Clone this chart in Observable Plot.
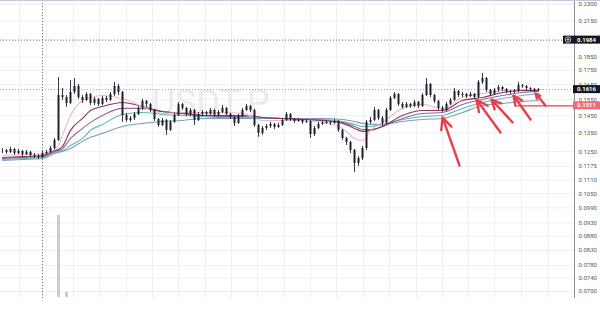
<!DOCTYPE html>
<html><head><meta charset="utf-8">
<script src="https://cdn.jsdelivr.net/npm/d3@7"></script>
<script src="https://cdn.jsdelivr.net/npm/@observablehq/plot@0.6"></script>
<style>
html,body{margin:0;padding:0;background:#fff;}
#chart{position:relative;width:600px;height:309px;overflow:hidden;background:#fff;font-family:Roboto,"Liberation Sans",sans-serif;}
#topline{position:absolute;left:0;top:0;width:600px;height:1px;background:#c3c9d4;z-index:5;}
</style></head><body>
<div id="chart"></div>
<script>
// ---- price bars (bar index = position in arrays) ----
const barClose = [
0.1256,0.1246,0.1261,0.1240,0.1251,0.1235,0.1246,0.1230,0.1225,0.1220,
0.1240,0.1246,0.1266,0.1309,0.1577,0.1564,0.1526,0.1597,0.1637,0.1564,
0.1545,0.1584,0.1526,0.1551,0.1520,0.1558,0.1545,0.1584,0.1637,0.1597,
0.1452,0.1422,0.1434,0.1458,0.1495,0.1539,0.1520,0.1482,0.1428,0.1393,
0.1422,0.1365,0.1411,0.1452,0.1520,0.1495,0.1458,0.1482,0.1422,0.1458,
0.1470,0.1458,0.1482,0.1452,0.1470,0.1495,0.1458,0.1440,0.1405,0.1446,
0.1482,0.1507,0.1482,0.1393,0.1348,0.1376,0.1387,0.1399,0.1382,0.1393,
0.1422,0.1458,0.1428,0.1416,0.1422,0.1411,0.1416,0.1342,0.1376,0.1399,
0.1405,0.1411,0.1405,0.1416,0.1365,0.1320,0.1298,0.1256,0.1190,0.1215,
0.1266,0.1411,0.1422,0.1482,0.1434,0.1405,0.1482,0.1558,0.1584,0.1520,
0.1501,0.1520,0.1507,0.1532,0.1507,0.1577,0.1651,0.1577,0.1539,0.1495,
0.1482,0.1520,0.1545,0.1604,0.1577,0.1584,0.1571,0.1584,0.1564,0.1665,
0.1692,0.1610,0.1584,0.1610,0.1630,0.1617,0.1604,0.1597,0.1604,0.1644,
0.1637,0.1624,0.1617,0.1610,0.1616];
const barHigh = [
0.1266,0.1261,0.1272,0.1266,0.1261,0.1256,0.1256,0.1251,0.1240,0.1235,
0.1251,0.1256,0.1277,0.1320,0.1699,0.1624,0.1577,0.1678,0.1692,0.1651,
0.1577,0.1597,0.1590,0.1564,0.1558,0.1571,0.1571,0.1597,0.1665,0.1651,
0.1604,0.1464,0.1446,0.1470,0.1507,0.1551,0.1545,0.1526,0.1489,0.1434,
0.1434,0.1428,0.1422,0.1464,0.1532,0.1526,0.1501,0.1495,0.1489,0.1470,
0.1482,0.1476,0.1495,0.1489,0.1482,0.1513,0.1501,0.1464,0.1446,0.1458,
0.1495,0.1520,0.1513,0.1489,0.1399,0.1387,0.1399,0.1411,0.1405,0.1405,
0.1434,0.1470,0.1464,0.1434,0.1434,0.1428,0.1428,0.1422,0.1387,0.1411,
0.1416,0.1422,0.1416,0.1428,0.1422,0.1370,0.1326,0.1304,0.1261,0.1225,
0.1277,0.1422,0.1440,0.1501,0.1489,0.1446,0.1495,0.1571,0.1597,0.1590,
0.1532,0.1532,0.1526,0.1545,0.1539,0.1590,0.1692,0.1658,0.1584,0.1545,
0.1507,0.1532,0.1558,0.1624,0.1610,0.1597,0.1590,0.1597,0.1590,0.1678,
0.1728,0.1699,0.1617,0.1624,0.1644,0.1637,0.1624,0.1610,0.1617,0.1665,
0.1651,0.1644,0.1630,0.1624,0.1624];
const barLow = [
0.1240,0.1235,0.1240,0.1230,0.1235,0.1225,0.1230,0.1220,0.1215,0.1210,
0.1215,0.1235,0.1240,0.1261,0.1304,0.1545,0.1501,0.1520,0.1584,0.1551,
0.1526,0.1539,0.1513,0.1513,0.1507,0.1513,0.1532,0.1539,0.1571,0.1577,
0.1411,0.1411,0.1411,0.1422,0.1452,0.1482,0.1501,0.1470,0.1416,0.1382,
0.1387,0.1337,0.1359,0.1405,0.1446,0.1482,0.1446,0.1446,0.1393,0.1416,
0.1446,0.1446,0.1452,0.1440,0.1440,0.1464,0.1446,0.1428,0.1387,0.1399,
0.1440,0.1476,0.1470,0.1382,0.1326,0.1337,0.1365,0.1376,0.1370,0.1376,
0.1387,0.1416,0.1416,0.1405,0.1411,0.1399,0.1405,0.1320,0.1331,0.1370,
0.1393,0.1399,0.1393,0.1399,0.1353,0.1309,0.1282,0.1240,0.1146,0.1175,
0.1205,0.1256,0.1399,0.1416,0.1422,0.1387,0.1399,0.1476,0.1551,0.1507,
0.1489,0.1495,0.1495,0.1501,0.1495,0.1501,0.1571,0.1564,0.1526,0.1482,
0.1470,0.1476,0.1513,0.1539,0.1564,0.1564,0.1558,0.1564,0.1551,0.1558,
0.1651,0.1597,0.1571,0.1577,0.1597,0.1604,0.1590,0.1584,0.1590,0.1597,
0.1624,0.1610,0.1604,0.1597,0.1604];

// ---- moving averages, read at these bar indices ----
const maIdx = [0,5,10,13,14,15,17,20,22,25,30,35,40,45,50,55,60,65,70,75,80,85,88,90,92,95,100,105,110,115,120,125,130,134];
const maFast = [0.1230,0.1235,0.1240,0.1261,0.1282,0.1337,0.1452,0.1545,0.1564,0.1577,0.1558,0.1507,0.1464,0.1470,0.1470,0.1470,0.1464,0.1422,0.1422,0.1422,0.1411,0.1376,0.1320,0.1309,0.1365,0.1411,0.1495,0.1520,0.1495,0.1564,0.1590,0.1610,0.1617,0.1617];
const maSecond = [0.1220,0.1225,0.1230,0.1256,0.1261,0.1277,0.1365,0.1434,0.1482,0.1507,0.1532,0.1507,0.1476,0.1464,0.1452,0.1452,0.1452,0.1440,0.1434,0.1428,0.1422,0.1405,0.1376,0.1359,0.1365,0.1387,0.1452,0.1482,0.1482,0.1545,0.1564,0.1597,0.1610,0.1610];
const maThird = [0.1215,0.1220,0.1225,0.1251,0.1256,0.1266,0.1320,0.1376,0.1411,0.1452,0.1495,0.1495,0.1476,0.1464,0.1452,0.1446,0.1446,0.1440,0.1434,0.1428,0.1422,0.1411,0.1387,0.1370,0.1370,0.1387,0.1434,0.1464,0.1470,0.1520,0.1551,0.1577,0.1597,0.1604];
const maFourth = [0.1210,0.1215,0.1220,0.1246,0.1251,0.1256,0.1282,0.1320,0.1365,0.1399,0.1458,0.1470,0.1458,0.1452,0.1446,0.1440,0.1440,0.1434,0.1434,0.1428,0.1428,0.1416,0.1399,0.1387,0.1387,0.1399,0.1428,0.1446,0.1452,0.1495,0.1532,0.1558,0.1577,0.1590];
const maSlow = [0.1205,0.1210,0.1215,0.1240,0.1246,0.1251,0.1266,0.1304,0.1326,0.1348,0.1387,0.1405,0.1416,0.1422,0.1434,0.1434,0.1434,0.1434,0.1434,0.1434,0.1434,0.1428,0.1416,0.1405,0.1399,0.1399,0.1416,0.1428,0.1434,0.1470,0.1513,0.1526,0.1539,0.1545];
const maColors = ["#7f9cc0","#5fb8b2","#8a6aa8","#8e3556","#f2b6c4"]; // slow -> fast

// ---- volume (only visible bars) ----
const volIdx = [14, 16];
const volValue = [410, 25];

// ---- axis ticks / grid ----
const yTicks = [0.2300,0.2150,0.1850,0.1750,0.1650,0.1550,0.1450,0.1350,0.1250,0.1175,0.1110,0.1050,0.0990,0.0930,0.0880,0.0830,0.0780,0.0740,0.0700];
const gridBars = [4.25,10.9,17.75,24.25,31,37.5,44,50.75,57.25,63.75,70.5,77,83.5,90.25,96.75,103.5,110,116.5,123,129.75,136.5];

// ---- annotations ----
const crosshair = {i: 10, price: 0.1984};
const lastPrice = 0.1616;
const alertLine = {price: 0.1511, fromBar: 128};
const arrowFrom = [[114.25,0.1180],[124.5,0.1353],[127.5,0.1411],[132,0.1428],[135.75,0.1513]];
const arrowTo   = [[110,0.1440],[118.5,0.1551],[122.25,0.1551],[127.75,0.1577],[133.25,0.1590]];
const watermark = {text: "USDT.P", i: 52, price: 0.1525};
const priceTags = [
  {price: 0.1984, bg: "#131722", fg: "#ffffff", icon: true},
  {price: 0.1616, bg: "#131722", fg: "#ffffff"},
  {price: 0.1511, bg: "#f0697a", fg: "#ffffff"}
];

const xDomain = [-0.5, 143];
const yDomain = [0.0680, 0.2338];
const font = "Roboto, 'Liberation Sans', sans-serif";

const bars = barClose.map((c, i) => ({i, open: i === 0 ? c : barClose[i - 1], close: c, high: barHigh[i], low: barLow[i]}));
const maAll = [maSlow, maFourth, maThird, maSecond, maFast];
const arrows = arrowFrom.map((f, k) => ({i1: f[0], p1: f[1], i2: arrowTo[k][0], p2: arrowTo[k][1]}));
const vols = volIdx.map((i, k) => ({i, v: volValue[k]}));

const svgStyle = {position: "absolute", left: "0px", top: "0px", background: "transparent", overflow: "visible"};
const chartDiv = document.getElementById("chart");

const mainPlot = Plot.plot({
  width: 600, height: 309, marginLeft: 0, marginRight: 26, marginTop: 0, marginBottom: 11,
  x: {domain: xDomain, axis: null},
  y: {type: "log", domain: yDomain, axis: null},
  style: svgStyle,
  marks: [
    Plot.gridX(gridBars, {stroke: "#eceff3", strokeOpacity: 1}),
    Plot.gridY(yTicks, {stroke: "#eceff3", strokeOpacity: 1}),
    Plot.text([watermark], {x: "i", y: "price", text: "text", fontSize: 36, fill: "#eaecf0", fontFamily: font}),
    Plot.ruleY([lastPrice], {stroke: "#9aa0aa", strokeDasharray: "1,2", strokeWidth: 1}),
    Plot.ruleX([crosshair], {x: "i", stroke: "#6b6f78", strokeDasharray: "1.2,1.8", strokeWidth: 1}),
    Plot.ruleY([crosshair], {y: "price", stroke: "#6b6f78", strokeDasharray: "1.2,1.8", strokeWidth: 1}),
    ...maAll.map((vals, s) => Plot.line(maIdx.map((i, k) => ({i, v: vals[k]})), {x: "i", y: "v", stroke: maColors[s], strokeWidth: 1.1, curve: "monotone-x"})),
    Plot.ruleX(bars, {x: "i", y1: "low", y2: "high", stroke: "#1e222d", strokeWidth: 0.9}),
    Plot.ruleX(bars, {x: "i", y1: "open", y2: "close", stroke: "#1e222d", strokeWidth: 2}),
    Plot.ruleY([alertLine], {y: "price", x1: "fromBar", x2: () => xDomain[1], stroke: "#e8414a", strokeWidth: 1.3}),
    Plot.arrow(arrows, {x1: "i1", y1: "p1", x2: "i2", y2: "p2", stroke: "#e8414a", strokeWidth: 2.4, headLength: 8, headAngle: 50}),
    Plot.ruleX([xDomain[1]], {stroke: "#8a8f99", strokeWidth: 1}),
    Plot.axisY(yTicks, {anchor: "right", tickSize: 0, tickPadding: 4, tickFormat: d3.format(".4f"), fontSize: 6, fill: "#50555f", fontFamily: font, label: null})
  ]
});
chartDiv.appendChild(mainPlot);

const volPlot = Plot.plot({
  width: 600, height: 309, marginLeft: 0, marginRight: 26, marginTop: 207, marginBottom: 12,
  x: {domain: xDomain, axis: null},
  y: {domain: [0, 450], axis: null},
  style: svgStyle,
  marks: [Plot.ruleX(vols, {x: "i", y: "v", stroke: "#c9ced2", strokeWidth: 3})]
});
chartDiv.appendChild(volPlot);

const yScale = mainPlot.scale("y");
const tagLayer = d3.select(mainPlot).append("g").attr("font-family", font).attr("text-anchor", "start");
priceTags.forEach(t => {
  const y = yScale.apply(t.price);
  const x0 = t.icon ? 563 : 573;
  tagLayer.append("rect").attr("x", x0).attr("y", y - 4).attr("width", 600 - x0).attr("height", 8).attr("fill", t.bg);
  tagLayer.append("text").attr("x", 577).attr("y", y).attr("dy", "0.35em").attr("font-size", 6).attr("font-weight", "bold").attr("fill", t.fg).text(d3.format(".4f")(t.price));
  if (t.icon) {
    tagLayer.append("circle").attr("cx", 568).attr("cy", y).attr("r", 2.8).attr("fill", "none").attr("stroke", t.fg).attr("stroke-width", 0.7);
    tagLayer.append("path").attr("d", `M566.4,${y}H569.6M568,${y - 1.6}V${y + 1.6}`).attr("stroke", t.fg).attr("stroke-width", 0.7);
  }
});

const topLine = document.createElement("div");
topLine.id = "topline";
chartDiv.appendChild(topLine);
</script>
</body></html>
